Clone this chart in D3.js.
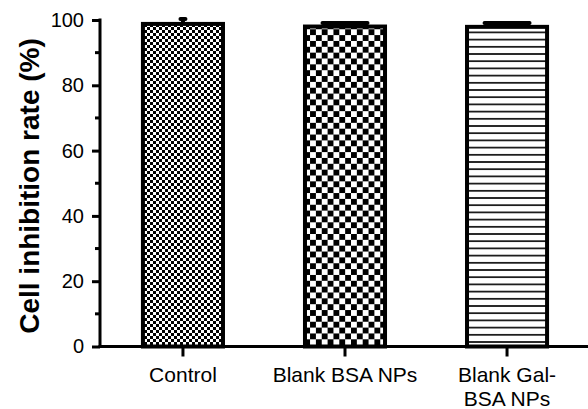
<!DOCTYPE html>
<html>
<head>
<meta charset="utf-8">
<script src="https://cdn.jsdelivr.net/npm/d3@7"></script>
<style>
  html, body { margin: 0; padding: 0; background: #fff; }
  svg { display: block; }
  text { font-family: "Liberation Sans", Arial, sans-serif; fill: #000; }
</style>
</head>
<body>
<div id="chart"></div>
<script>
const categories = ["Control", "Blank BSA NPs", "Blank Gal-BSA NPs"];
const categoryLines = [["Control"], ["Blank BSA NPs"], ["Blank Gal-", "BSA NPs"]];
const values = [98.8, 98.0, 97.9];
const errors = [1.5, 1.1, 1.2];
const yTicks = [0, 20, 40, 60, 80, 100];
const yMinorTicks = [10, 30, 50, 70, 90];
const patterns = ["fineCheck", "coarseCheck", "hLines"];
const capWidths = [5, 45, 45];

const W = 588, H = 409;
const svg = d3.select("#chart").append("svg").attr("width", W).attr("height", H);

const defs = svg.append("defs");
// fine checkerboard
const p1 = defs.append("pattern").attr("id", "fineCheck").attr("patternUnits", "userSpaceOnUse")
  .attr("width", 6).attr("height", 6);
p1.append("rect").attr("width", 6).attr("height", 6).attr("fill", "#fff");
p1.append("rect").attr("x", 0).attr("y", 0).attr("width", 3).attr("height", 3).attr("fill", "#000");
p1.append("rect").attr("x", 3).attr("y", 3).attr("width", 3).attr("height", 3).attr("fill", "#000");
// coarse checkerboard
const c = 5.85;
const p2 = defs.append("pattern").attr("id", "coarseCheck").attr("patternUnits", "userSpaceOnUse")
  .attr("width", 2 * c).attr("height", 2 * c);
p2.append("rect").attr("width", 2 * c).attr("height", 2 * c).attr("fill", "#fff");
p2.append("rect").attr("x", 0).attr("y", 0).attr("width", c).attr("height", c).attr("fill", "#000");
p2.append("rect").attr("x", c).attr("y", c).attr("width", c).attr("height", c).attr("fill", "#000");
// horizontal lines
const ls = 7.2;
const p3 = defs.append("pattern").attr("id", "hLines").attr("patternUnits", "userSpaceOnUse")
  .attr("width", 10).attr("height", ls);
p3.append("rect").attr("width", 10).attr("height", ls).attr("fill", "#fff");
p3.append("line").attr("x1", 0).attr("x2", 10).attr("y1", ls / 2).attr("y2", ls / 2)
  .attr("stroke", "#000").attr("stroke-width", 1.6);

const y = d3.scaleLinear().domain([0, 100]).range([346.5, 20]);
const x = d3.scaleBand().domain(categories).range([100, 590])
  .paddingInner(0.506).paddingOuter(0.265);

// bars
svg.append("g").selectAll("rect").data(categories).join("rect")
  .attr("x", d => x(d))
  .attr("y", (d, i) => y(values[i]))
  .attr("width", x.bandwidth())
  .attr("height", (d, i) => y(0) - y(values[i]))
  .attr("fill", (d, i) => `url(#${patterns[i]})`)
  .attr("stroke", "#000").attr("stroke-width", 4);

// error bars
const eg = svg.append("g");
categories.forEach((d, i) => {
  const cx = x(d) + x.bandwidth() / 2;
  eg.append("line").attr("x1", cx).attr("x2", cx)
    .attr("y1", y(values[i])).attr("y2", y(values[i] + errors[i]))
    .attr("stroke", "#000").attr("stroke-width", 4);
  eg.append("line").attr("x1", cx - capWidths[i] / 2).attr("x2", cx + capWidths[i] / 2)
    .attr("y1", y(values[i] + errors[i])).attr("y2", y(values[i] + errors[i]))
    .attr("stroke", "#000").attr("stroke-width", 4).attr("stroke-linecap", "round");
});

// y axis
const axisX = 100;
const yg = svg.append("g").attr("transform", `translate(${axisX},0)`);
yg.call(d3.axisLeft(y).tickValues(yTicks).tickSize(8).tickPadding(8).tickFormat(d3.format("d")));
yg.attr("font-size", null).attr("font-family", null);
yg.select(".domain").remove();
yg.selectAll(".tick line").attr("stroke", "#000").attr("stroke-width", 3);
yg.selectAll(".tick text").style("font-size", "20px").attr("fill", "#000");
yg.append("g").selectAll("line").data(yMinorTicks).join("line")
  .attr("x1", -5).attr("x2", 0).attr("y1", d => y(d)).attr("y2", d => y(d))
  .attr("stroke", "#000").attr("stroke-width", 3);
yg.append("line").attr("x1", 0).attr("x2", 0).attr("y1", y(100) - 1.5).attr("y2", y(0) + 1.5)
  .attr("stroke", "#000").attr("stroke-width", 3);

// x axis
const xg = svg.append("g").attr("transform", `translate(0,${y(0)})`);
xg.append("line").attr("x1", axisX - 1.5).attr("x2", W).attr("y1", 0).attr("y2", 0)
  .attr("stroke", "#000").attr("stroke-width", 3);
categories.forEach((d, i) => {
  const cx = x(d) + x.bandwidth() / 2;
  xg.append("line").attr("x1", cx).attr("x2", cx).attr("y1", 0).attr("y2", 10)
    .attr("stroke", "#000").attr("stroke-width", 3);
  const t = xg.append("text").attr("text-anchor", "middle").style("font-size", "21px");
  categoryLines[i].forEach((ln, j) => {
    t.append("tspan").attr("x", cx).attr("y", 35 + j * 24).text(ln);
  });
});

// y title
svg.append("text")
  .attr("transform", `translate(39,${186}) rotate(-90)`)
  .attr("text-anchor", "middle")
  .style("font-size", "28px").attr("font-weight", "bold")
  .text("Cell inhibition rate (%)");
</script>
</body>
</html>
